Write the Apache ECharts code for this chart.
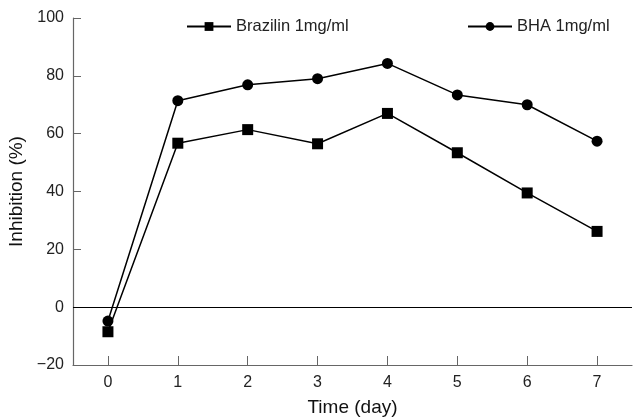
<!DOCTYPE html>
<html>
<head>
<meta charset="utf-8">
<script src="https://cdn.jsdelivr.net/npm/echarts@6/dist/echarts.min.js"></script>
<style>
    html, body { margin: 0; padding: 0; background: #fff; }
    #chart { width: 634px; height: 418px; }
</style>
</head>
<body>
<div id="chart"></div>
<script>
// 天数
const days = ['0', '1', '2', '3', '4', '5', '6', '7'];
// 抑制率 (%)
const brazilin = [-8.5, 56.7, 61.4, 56.5, 67.0, 53.4, 39.5, 26.2];
const bha = [-4.8, 71.4, 76.9, 79.0, 84.3, 73.4, 70.0, 57.4];

const fontFamily = 'Liberation Sans, Arial, sans-serif';

const myChart = echarts.init(document.getElementById('chart'));

const legendText = { color: '#222', fontSize: 16.5, fontFamily: fontFamily };

const option = {
    animation: false,
    textStyle: { fontFamily: fontFamily },
    grid: {
        left: 73,
        top: 18,
        right: 2,
        bottom: 53,
        containLabel: false,
        outerBoundsMode: 'none'
    },
    legend: [
        {
            data: ['Brazilin 1mg/ml'],
            left: 181,
            top: 13,
            itemWidth: 44,
            itemHeight: 11,
            itemGap: 14,
            textStyle: legendText
        },
        {
            data: ['BHA 1mg/ml'],
            left: 462,
            top: 13,
            itemWidth: 44,
            itemHeight: 11,
            textStyle: legendText
        }
    ],
    xAxis: {
        type: 'category',
        data: days,
        boundaryGap: true,
        name: 'Time (day)',
        nameLocation: 'middle',
        nameGap: 33,
        nameTextStyle: { color: '#111', fontSize: 19, fontFamily: fontFamily },
        axisLine: { show: true, onZero: false, lineStyle: { color: '#666', width: 1.2 } },
        axisTick: { show: true, inside: true, alignWithLabel: true, length: 9, lineStyle: { color: '#666' } },
        axisLabel: { color: '#222', fontSize: 16, margin: 10 },
        splitLine: { show: false }
    },
    yAxis: {
        type: 'value',
        min: -20,
        max: 100,
        interval: 20,
        name: 'Inhibition (%)',
        nameLocation: 'middle',
        nameGap: 45,
        nameTextStyle: { color: '#111', fontSize: 19, fontFamily: fontFamily },
        axisLine: { show: true, lineStyle: { color: '#666', width: 1.2 } },
        axisTick: { show: true, inside: true, length: 8, lineStyle: { color: '#666' } },
        axisLabel: {
            color: '#222',
            fontSize: 16,
            margin: 9,
            formatter: v => (v < 0 ? '\u2212' + Math.abs(v) : String(v))
        },
        splitLine: { show: false }
    },
    series: [
        {
            name: 'Brazilin 1mg/ml',
            type: 'line',
            data: brazilin,
            symbol: 'rect',
            symbolSize: 11,
            lineStyle: { color: '#000', width: 1.5 },
            itemStyle: { color: '#000' },
            markLine: {
                silent: true,
                symbol: 'none',
                label: { show: false },
                lineStyle: { color: '#000', width: 1.2, type: 'solid' },
                data: [{ yAxis: 0 }]
            }
        },
        {
            name: 'BHA 1mg/ml',
            type: 'line',
            data: bha,
            symbol: 'circle',
            symbolSize: 11,
            lineStyle: { color: '#000', width: 1.5 },
            itemStyle: { color: '#000' }
        }
    ]
};

myChart.setOption(option);
</script>
</body>
</html>
